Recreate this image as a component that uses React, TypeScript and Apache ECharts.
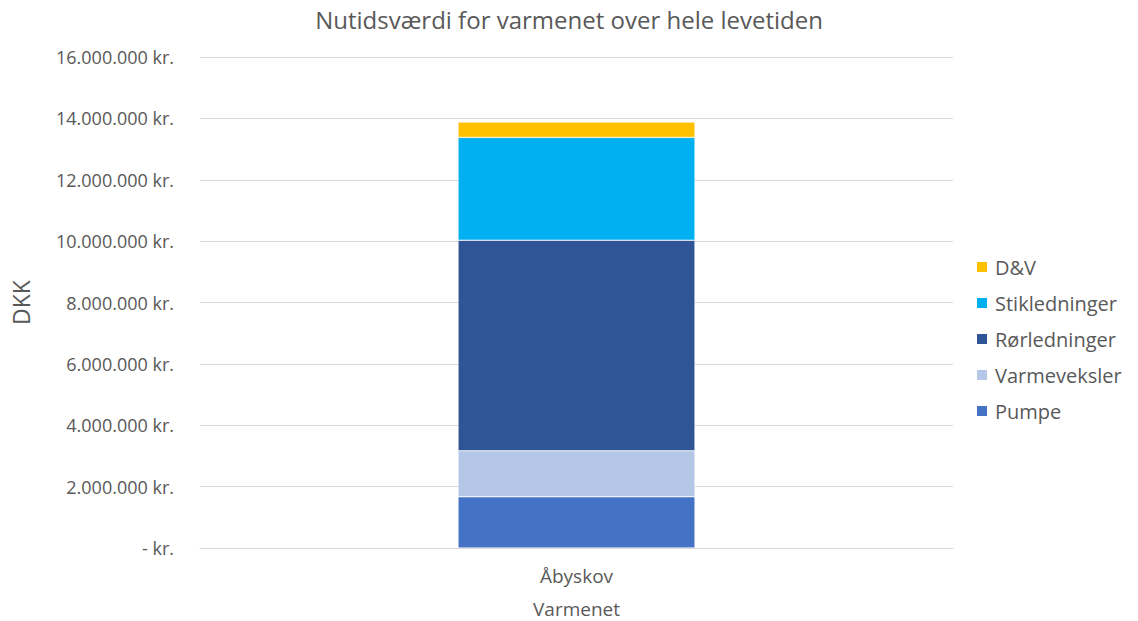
import React, { useEffect, useRef } from "react";
import * as echarts from "echarts";

const categories = ["Åbyskov"];
const seriesNames = ["Pumpe", "Varmeveksler", "Rørledninger", "Stikledninger", "D&V"];
const pumpe = [1670000];
const varmeveksler = [1500000];
const roerledninger = [6860000];
const stikledninger = [3350000];
const dv = [500000];
const seriesValues = [pumpe, varmeveksler, roerledninger, stikledninger, dv];
const colors = ["#4472C4", "#B4C7E7", "#2F5597", "#00B0F0", "#FFC000"];
const legendOrder = ["D&V", "Stikledninger", "Rørledninger", "Varmeveksler", "Pumpe"];

const FONT = "'Open Sans', sans-serif";
const GRAY = "#595959";

function fmt(v: number): string {
  if (v === 0) return "- kr.";
  const s = Math.round(v).toString().replace(/\B(?=(\d{3})+(?!\d))/g, ".");
  return s + " kr.";
}

export default function App() {
  const ref = useRef<HTMLDivElement>(null);
  useEffect(() => {
    if (!ref.current) return;
    const chart = echarts.init(ref.current, undefined, { renderer: "svg" });
    chart.setOption({
      animation: false,
      backgroundColor: "#ffffff",
      title: {
        text: "Nutidsværdi for varmenet over hele levetiden",
        left: 564,
        top: 2,
        textAlign: "center",
        textStyle: { fontFamily: FONT, fontSize: 24, fontWeight: "normal", color: GRAY },
      },
      legend: {
        data: legendOrder,
        orient: "vertical",
        left: 970,
        top: 252,
        itemWidth: 12,
        itemHeight: 12,
        itemGap: 16,
        icon: "rect",
        textStyle: { fontFamily: FONT, fontSize: 20, color: GRAY, padding: [0, 0, 0, 2] },
      },
      grid: { left: 200, right: 185, top: 57, bottom: 73, outerBoundsMode: "none" },
      xAxis: {
        type: "category",
        data: categories,
        name: "Varmenet",
        nameLocation: "middle",
        nameGap: 51,
        nameTextStyle: { fontFamily: FONT, fontSize: 19, color: GRAY },
        axisLine: { lineStyle: { color: "#d9d9d9" } },
        axisTick: { show: false },
        axisLabel: { fontFamily: FONT, fontSize: 19, color: GRAY, margin: 18 },
      },
      yAxis: {
        type: "value",
        min: 0,
        max: 16000000,
        interval: 2000000,
        name: "DKK",
        nameLocation: "middle",
        nameGap: 168,
        nameRotate: 90,
        nameTextStyle: { fontFamily: FONT, fontSize: 23, color: GRAY },
        axisLine: { show: false },
        axisTick: { show: false },
        splitLine: { lineStyle: { color: "#d9d9d9", width: 1 } },
        axisLabel: {
          fontFamily: FONT,
          fontSize: 18,
          color: GRAY,
          margin: 26,
          formatter: (v: number) => fmt(v),
        },
      },
      series: seriesNames.map((name, i) => ({
        name,
        type: "bar",
        stack: "total",
        data: seriesValues[i],
        barWidth: 237,
        itemStyle: { color: colors[i], borderColor: "#ffffff", borderWidth: 0.5 },
      })),
    });
    return () => chart.dispose();
  }, []);
  return <div ref={ref} style={{ width: 1138, height: 621, position: "absolute", left: 0, top: 0 }} />;
}
